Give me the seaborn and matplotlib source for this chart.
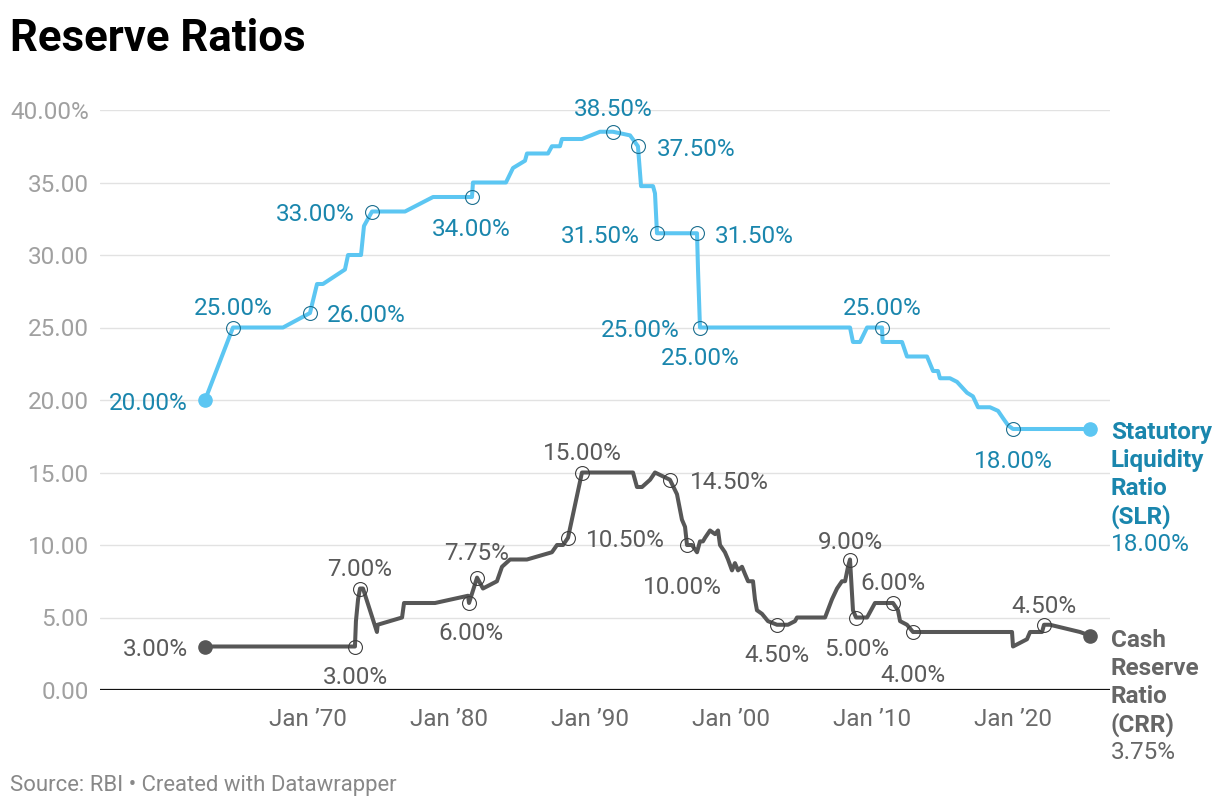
import numpy as np
import pandas as pd
import matplotlib
matplotlib.use("Agg")
import matplotlib.pyplot as plt
import seaborn as sns

# ---------------- data ----------------
title = "Reserve Ratios"
source = "Source: RBI • Created with Datawrapper"

slr_years = [1962.70, 1964.68, 1968.23, 1970.14, 1970.64, 1971.06, 1972.62, 1972.84,
             1973.76, 1973.97, 1974.54, 1976.88, 1978.87, 1981.63, 1981.70, 1984.04,
             1984.54, 1985.39, 1985.53, 1987.02, 1987.30, 1987.87, 1988.01, 1989.43,
             1990.71, 1991.63, 1992.84, 1993.40, 1993.62, 1994.47, 1994.61, 1994.75,
             1997.59, 1997.66, 1997.73, 1997.80, 2008.44, 2008.65, 2009.15, 2009.65,
             2010.71, 2010.75, 2012.13, 2012.48, 2013.90, 2014.33, 2014.68, 2014.82,
             2015.53, 2016.03, 2016.74, 2017.16, 2017.52, 2018.37, 2018.94, 2019.29,
             2019.65, 2020.00, 2025.46]
slr_values = [20, 25, 25, 26, 28, 28, 29, 30,
              30, 32, 33, 33, 34, 34, 35, 35,
              36, 36.5, 37, 37, 37.5, 37.5, 38, 38,
              38.5, 38.5, 38.25, 37.5, 34.75, 34.75, 34.25, 31.5,
              31.5, 29, 27, 25, 25, 24, 24, 25,
              25, 24, 24, 23, 23, 22, 22, 21.5,
              21.5, 21.25, 20.5, 20.25, 19.5, 19.5, 19.25, 18.75,
              18.25, 18, 18]

crr_years = [1962.70, 1973.33, 1973.40, 1973.55, 1973.69, 1973.90, 1974.89, 1974.94,
             1976.67, 1976.81, 1979.01, 1981.35, 1981.42, 1981.99, 1982.41, 1983.40,
             1983.76, 1984.33, 1985.53, 1987.30, 1987.66, 1988.09, 1988.44, 1989.43,
             1993.05, 1993.33, 1993.69, 1994.26, 1994.61, 1995.67, 1996.17, 1996.52,
             1996.74, 1996.88, 1997.23, 1997.59, 1997.80, 1998.01, 1998.16, 1998.51,
             1998.87, 1999.08, 1999.22, 1999.57, 1999.79, 2000.07, 2000.28, 2000.50,
             2000.78, 2000.99, 2001.21, 2001.56, 2001.70, 2001.84, 2002.20, 2002.62,
             2003.26, 2004.04, 2004.54, 2004.68, 2006.67, 2007.16, 2007.52, 2007.87,
             2008.09, 2008.30, 2008.44, 2008.65, 2008.87, 2009.65, 2010.21, 2011.49,
             2011.84, 2011.99, 2012.48, 2012.91, 2019.93, 2020.00, 2020.99, 2021.21,
             2022.06, 2022.20, 2022.62, 2024.75, 2025.46]
crr_values = [3, 3, 4.75, 6.25, 7, 7, 4, 4.5,
              5, 6, 6, 6.5, 6, 7.75, 7, 7.5,
              8.5, 9, 9, 9.5, 10, 10, 10.5, 15,
              15, 14, 14, 14.5, 15, 14.5, 13.5, 11.75,
              11.25, 10, 10, 9.5, 10.25, 10.25, 10.5, 11,
              10.75, 11, 10, 9.5, 9, 8.25, 8.75, 8.25,
              8.5, 8, 7.5, 7.5, 6.25, 5.5, 5.25, 4.75,
              4.5, 4.5, 4.75, 5, 5, 6.25, 7, 7.5,
              7.5, 8.5, 9, 5.5, 5, 5, 6, 6,
              5.5, 4.75, 4.5, 4, 4, 3, 3.5, 4,
              4, 4.5, 4.5, 4, 3.75]

x_tick_years = [1970, 1980, 1990, 2000, 2010, 2020]
x_tick_labels = ["Jan \u201970", "Jan \u201980", "Jan \u201990",
                 "Jan \u201900", "Jan \u201910", "Jan \u201920"]
y_ticks = [0, 5, 10, 15, 20, 25, 30, 35, 40]
y_tick_labels = ["0.00", "5.00", "10.00", "15.00", "20.00", "25.00",
                 "30.00", "35.00", "40.00%"]

slr_name_lines = ["Statutory", "Liquidity", "Ratio", "(SLR)"]
crr_name_lines = ["Cash", "Reserve", "Ratio", "(CRR)"]

# indices of annotated points
slr_marked = [1, 3, 10, 13, 25, 27, 31, 32, 35, 35, 40, 57]
crr_marked = [1, 4, 12, 13, 22, 23, 29, 33, 56, 66, 68, 71, 75, 81]

# ---------------- styles / layout ----------------
slr_label_style = [(0, 22, "center"), (17, 0, "left"), (-17, 0, "right"),
                   (-1, -29, "center"), (0, 25, "center"), (19, 0, "left"),
                   (-17, 0, "right"), (18, 0, "left"), (-20, 0, "right"),
                   (0, -28, "center"), (0, 22, "center"), (0, -29, "center")]
crr_label_style = [(0, -28, "center"), (0, 22, "center"), (2, -28, "center"),
                   (0, 27, "center"), (18, 0, "left"), (0, 22, "center"),
                   (20, 0, "left"), (-5, -40, "center"), (0, -28, "center"),
                   (0, 20, "center"), (1, -29, "center"), (0, 22, "center"),
                   (0, -40, "center"), (0, 21, "center")]

SLR_LINE = "#5cc6f2"
SLR_TEXT = "#1a86ad"
SLR_RING = "#1c6f8f"
CRR_LINE = "#575757"
CRR_TEXT = "#5a5a5a"
CRR_RING = "#3f3f3f"

W, H = 1220, 808
sns.set_theme(style="white")
plt.rcParams["font.family"] = ["Roboto", "DejaVu Sans"]

fig = plt.figure(figsize=(W / 100, H / 100), dpi=100)
ax = fig.add_axes([100 / W, (H - 690) / H, 1010 / W, 580 / H])

slr_df = pd.DataFrame({"year": slr_years, "value": slr_values})
crr_df = pd.DataFrame({"year": crr_years, "value": crr_values})

sns.lineplot(data=slr_df, x="year", y="value", ax=ax, color=SLR_LINE, linewidth=2.9,
             estimator=None, sort=False, solid_joinstyle="round",
             solid_capstyle="round", zorder=3)
sns.lineplot(data=crr_df, x="year", y="value", ax=ax, color=CRR_LINE, linewidth=2.9,
             estimator=None, sort=False, solid_joinstyle="round",
             solid_capstyle="round", zorder=3)

FS = 17.5
VSHIFT = -3  # pixels: Datawrapper digits sit slightly lower than mpl's center


def annotate_series(years, values, marked, styles, text_color, ring_color, line_color):
    # start & end filled dots
    ax.plot([years[0], years[-1]], [values[0], values[-1]], "o", ms=9.5,
            color=line_color, zorder=5, clip_on=False)
    ax.annotate(f"{values[0]:.2f}%", (years[0], values[0]), xytext=(-17, VSHIFT),
                textcoords="offset pixels", ha="right", va="center",
                fontsize=FS, color=text_color, zorder=6)
    done = set()
    for idx, (dx, dy, ha) in zip(marked, styles):
        if idx not in done:
            ax.plot(years[idx], values[idx], "o", ms=10, mfc="none", mec=ring_color,
                    mew=0.8, zorder=6, clip_on=False)
            done.add(idx)
        ax.annotate(f"{values[idx]:.2f}%", (years[idx], values[idx]),
                    xytext=(dx, dy + VSHIFT), textcoords="offset pixels", ha=ha,
                    va="center", fontsize=FS, color=text_color, zorder=6)


annotate_series(slr_years, slr_values, slr_marked, slr_label_style,
                SLR_TEXT, SLR_RING, SLR_LINE)
annotate_series(crr_years, crr_values, crr_marked, crr_label_style,
                CRR_TEXT, CRR_RING, CRR_LINE)

# axes appearance
x0 = 1970 + (100 - 308) / 14.1
x1 = 1970 + (1110 - 308) / 14.1
ax.set_xlim(x0, x1)
ax.set_ylim(0, 40)
ax.set_xticks(x_tick_years)
ax.set_xticklabels(x_tick_labels)
ax.set_yticks(y_ticks)
ax.set_yticklabels(y_tick_labels)
ax.tick_params(axis="y", length=0, pad=8, labelsize=FS, labelcolor="#a0a0a0")
ax.tick_params(axis="x", length=0, pad=13, labelsize=FS, labelcolor="#6a6a6a")
for lbl in ax.get_yticklabels():
    lbl.set_verticalalignment("center_baseline")
ax.set_xlabel("")
ax.set_ylabel("")
for s in ax.spines.values():
    s.set_visible(False)
ax.yaxis.grid(True, color="#e2e2e2", linewidth=1.0, zorder=0)
ax.xaxis.grid(False)
ax.axhline(0, color="#111111", linewidth=1.6, zorder=2)
ax.set_facecolor("white")


# series end labels
def end_label(lines, value, top_px, color, value_color):
    for i, ln in enumerate(lines):
        fig.text(1111 / W, 1 - (top_px + 28 * i) / H, ln, ha="left",
                 va="center_baseline", fontsize=FS, fontweight="bold", color=color)
    fig.text(1111 / W, 1 - (top_px + 28 * len(lines)) / H, f"{value:.2f}%",
             ha="left", va="center_baseline", fontsize=FS, color=value_color)


end_label(slr_name_lines, slr_values[-1], 430, SLR_TEXT, SLR_TEXT)
end_label(crr_name_lines, crr_values[-1], 638, "#666666", "#666666")

fig.text(10 / W, 1 - 51 / H, title, ha="left", va="baseline", fontsize=31.5,
         fontweight="bold", color="#000000")
fig.text(10 / W, 1 - 785 / H, source, ha="left", va="center", fontsize=15.9,
         color="#888888")

fig.savefig("out.png", dpi=100, facecolor="white")
